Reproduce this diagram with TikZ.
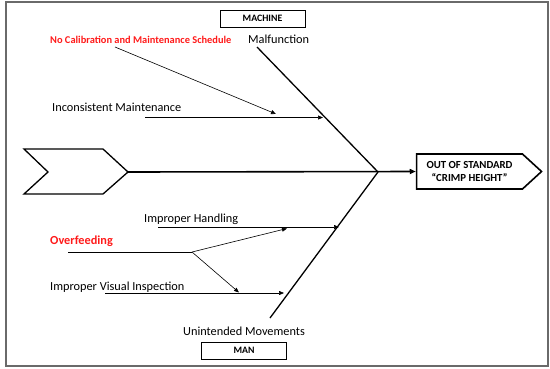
\documentclass[tikz,border=0pt]{standalone}
\usepackage{fontspec}
\setmainfont{Carlito}
\usepackage{tikz}
\usetikzlibrary{arrows.meta,positioning,shapes.symbols,calc}
\definecolor{frm}{HTML}{6a6a6a}
\definecolor{hot}{HTML}{ff1a1a}

\begin{document}
\begin{tikzpicture}[x=1pt,y=-1pt,
  cause/.style={inner sep=0pt,anchor=west,font=\fontsize{12.3}{14}\selectfont},
  hotcause/.style={cause,text=hot,font=\fontsize{12.3}{14}\selectfont\bfseries},
  catbox/.style={draw,thick,minimum width=85pt,minimum height=17pt,inner sep=0pt,font=\fontsize{9.8}{11}\selectfont\bfseries},
  bone/.style={line width=1.3pt},
  sub/.style={line width=0.6pt,-{Triangle[length=5pt,width=4pt]}}]
\useasboundingbox (0,0) rectangle (550,368);
\draw[frm,line width=1.6pt] (6,2) rectangle (548,366);
% categories
\node[catbox] (machine) at (262.5,18.5) {MACHINE};
\node[catbox] (man) at (244,350.5) {MAN};
% effect head
\node[draw,line width=1.6pt,signal,signal to=east,signal pointer angle=85,
  minimum width=125pt,minimum height=35pt,inner sep=0pt,align=center,
  font=\fontsize{10.8}{12.5}\selectfont\bfseries] (effect) at (469.5,171.5)
  {OUT OF STANDARD\\``CRIMP HEIGHT''};
% tail and spine
\draw[line width=1.3pt] (24,149) -- (103,149) -- (128,172) coordinate (tail)
  -- (103,194) -- (24,194) -- (48,172) -- cycle;
\coordinate (hub) at (378,172);
\draw[line width=1.6pt,-{Triangle[length=6pt,width=5pt]}] (tail) -- (effect.west);
% machine side
\node[hotcause,font=\fontsize{10.4}{12}\selectfont\bfseries] (calib) at (50,40)
  {No Calibration and Maintenance Schedule};
\node[cause] (malf) at (248,39) {Malfunction};
\node[cause] (incons) at (52,107) {Inconsistent Maintenance};
\coordinate (mtop) at (257,47);
\draw[bone] (mtop) -- (hub);
\coordinate (c1) at (115,47);
\coordinate (c1e) at (276,114);
\draw[sub] (c1) -- (c1e);
\coordinate (i1) at (145,117.5);
\coordinate (i1e) at (323,117.5);
\draw[sub] (i1) -- (i1e);
% man side
\node[cause] (handl) at (144,219) {Improper Handling};
\node[hotcause] (overf) at (50,241) {Overfeeding};
\node[cause] (visual) at (50,287) {Improper Visual Inspection};
\node[cause] (unint) at (183,331) {Unintended Movements};
\coordinate (mbot) at (270,318);
\draw[bone] (hub) -- (mbot);
\coordinate (h1) at (158,227);
\coordinate (h1e) at (339,227);
\draw[sub] (h1) -- (h1e);
\coordinate (o1) at (68,252);
\coordinate (fork) at (192,252);
\draw[line width=0.6pt] (o1) -- (fork);
\draw[sub] (fork) -- (287,228.5);
\draw[sub] (fork) -- (239,292.5);
\coordinate (v1) at (105,293);
\coordinate (v1e) at (284,293);
\draw[sub] (v1) -- (v1e);
\end{tikzpicture}
\end{document}
